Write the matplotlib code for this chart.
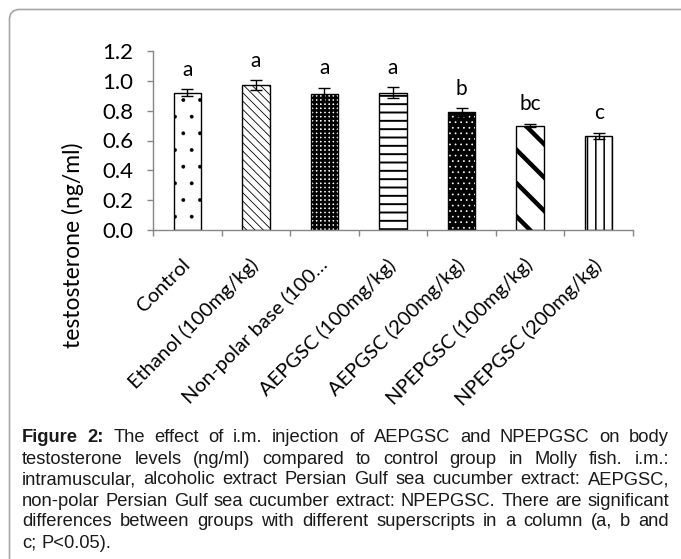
import numpy as np
import matplotlib
matplotlib.use('Agg')
import matplotlib.pyplot as plt
from matplotlib.patches import FancyBboxPatch
from matplotlib.transforms import IdentityTransform

# Datos
grupos = ['Control', 'Ethanol (100mg/kg)', 'Non-polar base (100…', 'AEPGSC (100mg/kg)',
          'AEPGSC (200mg/kg)', 'NPEPGSC (100mg/kg)', 'NPEPGSC (200mg/kg)']
media = [0.92, 0.97, 0.91, 0.92, 0.79, 0.70, 0.63]
error = [0.022, 0.033, 0.045, 0.038, 0.027, 0.011, 0.022]
letras = ['a', 'a', 'a', 'a', 'b', 'bc', 'c']
yticks = [0.0, 0.2, 0.4, 0.6, 0.8, 1.0, 1.2]

# Tramas de cada barra (estilo)
tramas = ['.', '\\\\\\\\', '++++', '--', '...', '\\', '||']
grosor_trama = [0.3, 0.6, 1.8, 1.4, 0.5, 3.2, 1.1]

leyenda = [
    [('Figure', True), ('2:', True)] + [(w, False) for w in 'The effect of i.m. injection of AEPGSC and NPEPGSC on body'.split()],
    [(w, False) for w in 'testosterone levels (ng/ml) compared to control group in Molly fish. i.m.:'.split()],
    [(w, False) for w in 'intramuscular, alcoholic extract Persian Gulf sea cucumber extract: AEPGSC,'.split()],
    [(w, False) for w in 'non-polar Persian Gulf sea cucumber extract: NPEPGSC. There are significant'.split()],
    [(w, False) for w in 'differences between groups with different superscripts in a column (a, b and'.split()],
    [(w, False) for w in 'c; P<0.05).'.split()],
]

W, H = 681, 559
plt.rcParams['font.family'] = ['Lato', 'DejaVu Sans']
fig = plt.figure(figsize=(W / 100, H / 100), dpi=100)
ax = fig.add_axes([153 / W, 1 - 230 / H, 480 / W, 179 / H])

x = np.arange(len(grupos))
for i in range(len(grupos)):
    plt.rcParams['hatch.linewidth'] = grosor_trama[i]
    if i == 4:
        ax.bar(x[i], media[i], width=0.4, color='black', edgecolor='black', linewidth=1, zorder=2)
        b = ax.bar(x[i], media[i], width=0.4, color='none', edgecolor='white', linewidth=0,
                   hatch=tramas[i], zorder=3)
    else:
        b = ax.bar(x[i], media[i], width=0.4, color='white', edgecolor='black', linewidth=1,
                   hatch=tramas[i], zorder=2)
    for p in b:
        try:
            p.set_hatch_linewidth(grosor_trama[i])
        except AttributeError:
            pass

ax.errorbar(x, media, yerr=error, fmt='none', ecolor='black', elinewidth=1, capsize=4,
            capthick=1, zorder=4)

for i in range(len(grupos)):
    ax.annotate(letras[i], (x[i], media[i] + error[i]), xytext=(0, 14), textcoords='offset points',
                ha='center', va='center', fontsize=15)

ax.set_xlim(-0.5, len(grupos) - 0.5)
ax.set_ylim(0, 1.2)
ax.set_yticks(yticks)
ax.set_yticklabels([f'{v:.1f}' for v in yticks], fontsize=16)
ax.set_xticks(x)
ax.set_xticklabels(grupos, rotation=45, ha='right', va='center', rotation_mode='anchor', fontsize=14.5)
ax.set_xticks(np.arange(-0.5, len(grupos), 1), minor=True)
ax.tick_params(axis='x', which='major', length=0, pad=23)
ax.tick_params(axis='x', which='minor', length=4, color='#868686', width=1)
ax.tick_params(axis='y', length=4, color='#868686', width=1, pad=10)
for s in ['top', 'right']:
    ax.spines[s].set_visible(False)
for s in ['left', 'bottom']:
    ax.spines[s].set_color('#868686')
    ax.spines[s].set_linewidth(1)

fig.text(73 / W, 1 - 245 / H, 'testosterone (ng/ml)', rotation=90, ha='center', va='center',
         fontsize=16.5)

# Marco gris redondeado
marco = FancyBboxPatch((9.5, -100), 900, H - 9.5 + 100, boxstyle='round,pad=0,rounding_size=10',
                       transform=IdentityTransform(), fill=False, edgecolor='#a6a6a6', linewidth=1.2)
fig.add_artist(marco)

# Pie de figura justificado
fig.canvas.draw()
r = fig.canvas.get_renderer()


def ancho(s, negrita, fs):
    t = fig.text(0, 0, s, fontsize=fs, family='Liberation Sans', weight='bold' if negrita else 'normal')
    w = t.get_window_extent(r).width
    t.remove()
    return w


izq, der = 22, 669
# tamaño de letra para que la línea más larga quepa con espacios normales
fs = 12
esp = ancho('a a', False, fs) - 2 * ancho('a', False, fs)
natural = max(sum(ancho(w, b, fs) for w, b in l) + esp * (len(l) - 1) for l in leyenda)
fs = fs * (der - izq - 2) / natural
espacio = ancho('a a', False, fs) - 2 * ancho('a', False, fs)

for k, linea in enumerate(leyenda):
    anchos = [ancho(w, b, fs) for w, b in linea]
    if k < len(leyenda) - 1:
        hueco = (der - izq - sum(anchos)) / (len(linea) - 1)
    else:
        hueco = espacio
    xp = izq
    yp = 438 + 21 * k
    for (w, b), a in zip(linea, anchos):
        fig.text(xp / W, 1 - yp / H, w, fontsize=fs, family='Liberation Sans',
                 weight='bold' if b else 'normal', ha='left', va='center', color='#1a1a1a')
        xp += a + hueco

fig.savefig('out.png', dpi=100)
